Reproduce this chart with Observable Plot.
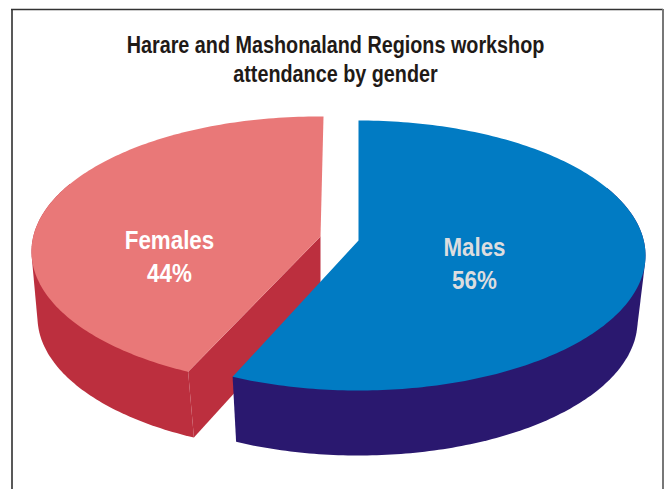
<!DOCTYPE html>
<html>
<head>
<meta charset="utf-8">
<script src="https://cdn.jsdelivr.net/npm/d3@7"></script>
<script src="https://cdn.jsdelivr.net/npm/@observablehq/plot@0.6"></script>
<style>
  html, body { margin: 0; padding: 0; background: #fff; }
  svg { display: block; }
</style>
</head>
<body>
<div id="chart"></div>
<script>
const categories = ["Males", "Females"];
const shares = [56, 44];
const titleLines = ["Harare and Mashonaland Regions workshop", "attendance by gender"];

// Appearance and geometry of the drawing
const topColors = ["#017BC3", "#E97878"];
const wallColors = ["#2A186F", "#BC2F3E"];
const labelColors = ["#DCDDDF", "#FFFFFF"];
const W = 669, H = 489;
const fontFamily = "'Liberation Sans', Arial, sans-serif";
const narrow = 0.86;

const geometry = [
  {cx: 358, topCy: 255, apexY: 240, botCy: 320.5, rx: 287, botRx: 279, ry: 135, botRy: 134.5, apexX: 358, depth: 62, rotate: 0, botShift: 0, labelX: 474, labelY: 261.5},
  {cx: 318, topCy: 251, apexY: 236, botCy: 316.5, rx: 287, botRx: 281, ry: 135, botRy: 134.5, apexX: 320, depth: 62, rotate: 1, botShift: -0.7, labelX: 169, labelY: 254.5}
];

// Perspective foreshortening of the pie's angles (degrees)
const rad = Math.PI / 180;
const warp = (a) => a - 12 * Math.sin(a * rad);

let acc = 0;
const slices = categories.map((name, i) => {
  const a0 = acc;
  const a1 = acc + shares[i] * 3.6;
  acc = a1;
  return {name, share: shares[i], t0: warp(a0) + geometry[i].rotate, t1: warp(a1) + geometry[i].rotate, ...geometry[i], top: topColors[i], wall: wallColors[i], label: labelColors[i]};
});

const angles = (t0, t1) => {
  const n = Math.ceil(Math.abs(t1 - t0));
  return d3.range(n + 1).map((k) => t0 + (t1 - t0) * k / n);
};
const topPt = (s, t) => [s.cx + s.rx * Math.sin(t * rad), s.topCy - s.ry * Math.cos(t * rad)];
const botPt = (s, t) => [s.cx + s.botRx * Math.sin((t + s.botShift) * rad), s.botCy - s.botRy * Math.cos((t + s.botShift) * rad)];

const shape = (pts, fill) => Plot.line(pts, {x: (d) => d[0], y: (d) => d[1], fill, stroke: "none"});

const marks = [];
for (const s of slices.slice().reverse()) {
  // Outer wall: hull of the visible part of the rim and the lower rim
  const [w0, w1] = s.name === "Males" ? [60, s.t1] : [s.t0, 300];
  const ws = angles(w0, w1);
  marks.push(shape(d3.polygonHull([...ws.map((t) => topPt(s, t)), ...ws.map((t) => botPt(s, t))]), s.wall));
  // Cut face (seen on the Females slice, hidden under Males)
  if (s.name === "Females") {
    marks.push(shape([[s.apexX, s.apexY], topPt(s, s.t0), botPt(s, s.t0), [s.apexX, s.apexY + s.depth]], s.wall));
  }
  // Top face
  marks.push(shape([[s.apexX, s.apexY], ...angles(s.t0, s.t1).map((t) => topPt(s, t))], s.top));
}
marks.push(Plot.text(slices, {
  x: "labelX", y: "labelY", text: (d) => `${d.name}\n${d.share}%`,
  fill: "label", fontSize: 26, fontWeight: 700, lineHeight: 1.27, textAnchor: "middle", fontFamily
}));
marks.push(Plot.text([titleLines.join("\n")], {
  x: () => 335, y: () => 58, text: (d) => d,
  fill: "#1f1a17", fontSize: 23, fontWeight: 700, lineHeight: 1.25, textAnchor: "middle", fontFamily
}));
marks.push(Plot.ruleX([11.5], {y1: 9, y2: H, stroke: "#222", strokeWidth: 1.5}));
marks.push(Plot.ruleY([9], {x1: 11, x2: 663, stroke: "#333", strokeWidth: 1.5}));
marks.push(Plot.ruleX([662.5], {y1: 9, y2: H, stroke: "#777", strokeWidth: 2}));

const chart = Plot.plot({
  width: W, height: H, margin: 0,
  x: {domain: [0, W], range: [0, W], axis: null},
  y: {domain: [0, H], range: [0, H], axis: null},
  color: {type: "identity"},
  style: {background: "#fff", overflow: "visible"},
  marks
});
document.getElementById("chart").append(chart);

// The reference's type is a condensed bold; squeeze each line to that width
chart.querySelectorAll("text tspan").forEach((t) => {
  t.setAttribute("textLength", (t.getComputedTextLength() * narrow).toFixed(1));
  t.setAttribute("lengthAdjust", "spacingAndGlyphs");
});
</script>
</body>
</html>
